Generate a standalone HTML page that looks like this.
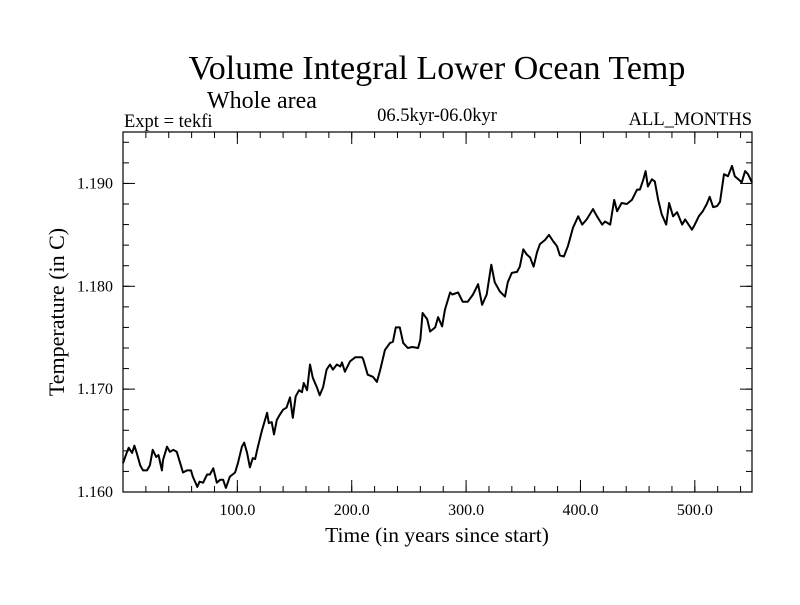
<!DOCTYPE html>
<html><head><meta charset="utf-8"><style>
html,body{margin:0;padding:0;background:#fff}
svg text{font-family:"Liberation Serif",serif;fill:#000}
</style></head><body>
<svg id="chart" width="800" height="600" viewBox="0 0 800 600">
<text x="437" y="79" font-size="34" text-anchor="middle">Volume Integral Lower Ocean Temp</text>
<text x="207" y="108" font-size="24">Whole area</text>
<text x="124" y="127" font-size="18.5">Expt = tekfi</text>
<text x="437" y="121" font-size="18.5" text-anchor="middle">06.5kyr-06.0kyr</text>
<text x="752" y="125" font-size="18.5" text-anchor="end">ALL_MONTHS</text>
<text x="437" y="542" font-size="21.5" text-anchor="middle">Time (in years since start)</text>
<text transform="translate(64,312) rotate(-90)" font-size="22" text-anchor="middle">Temperature (in C)</text>
<g id="axes"></g>
<path id="series" fill="none" stroke="#000" stroke-width="2" stroke-linejoin="round"></path>
<rect x="123" y="132" width="629" height="360" fill="none" stroke="#000" stroke-width="1.2"></rect>
</svg>
<script>
const years = [0,3.5,5,8,10,12,15,17.5,21,23.5,26,29,31,34,35,38.5,41,44,47,50,52.5,56,59.5,61,65,67,70,73.5,76,79,82,85,87.5,90,93.5,98,100.5,104,106,108.5,111,113.5,115.5,118,121.5,126,127.5,130,132,134.5,137,140,143,146,148.5,151,154,156.5,158,161,163.5,166,169.5,172,175,178,181,183.5,187,190,
191.5,194,198.5,203,209,210,214,218.5,222,225,229,233.5,236,238.5,242,245,249,253,258,260,262,266,268.5,273,275.5,279,281.5,286,288,293,297,301.5,306,310.5,314,318,322,325,329.5,334,336.5,340,344.5,347,350,353,356,359,362,364.5,369,372.5,
376,379.5,382,385.5,389,393.5,398,401.5,405.5,411,414.5,419,421.5,426,429.5,432,436,440.5,445,449.5,452,455,457,459,462.5,465,468,471,475,477.5,481,484.5,489,491.5,497.5,500,503.5,507,510.5,513,516,519.5,522,525.5,529,532.5,535,538,541,544,546.5,550];
const temps = [1.1628,1.1639,1.1643,1.1638,1.1645,1.1638,1.1626,1.1621,1.1621,1.1626,1.1641,1.1634,1.1636,1.1621,1.1631,1.1644,1.1639,1.1641,1.1639,1.1628,1.1619,1.1621,1.1621,1.1615,1.1605,1.1610,1.1609,1.1617,1.1617,1.1623,1.1609,1.1612,1.1612,1.1604,1.1615,1.1619,1.1628,1.1644,1.1648,1.1638,1.1624,1.1633,1.1632,1.1644,1.1660,1.1677,1.1667,1.1668,1.1656,1.1670,1.1675,1.1680,1.1682,1.1692,1.1672,1.1693,1.1699,1.1697,1.1706,1.1699,1.1724,1.1711,1.1702,1.1694,1.1702,1.1719,1.1724,1.1719,1.1724,1.1722,
1.1726,1.1717,1.1727,1.1731,1.1731,1.1729,1.1714,1.1712,1.1707,1.1719,1.1738,1.1745,1.1746,1.1760,1.1760,1.1745,1.1740,1.1741,1.1740,1.1748,1.1774,1.1768,1.1756,1.1760,1.1770,1.1761,1.1777,1.1794,1.1792,1.1794,1.1785,1.1785,1.1792,1.1802,1.1782,1.1792,1.1821,1.1804,1.1795,1.1790,1.1804,1.1813,1.1814,1.1819,1.1836,1.1831,1.1828,1.1819,1.1833,1.1841,1.1845,1.1850,
1.1844,1.1839,1.1830,1.1829,1.1839,1.1857,1.1868,1.1860,1.1865,1.1875,1.1868,1.1860,1.1863,1.1860,1.1884,1.1873,1.1881,1.1880,1.1884,1.1894,1.1894,1.1904,1.1912,1.1897,1.1904,1.1902,1.1884,1.1870,1.1860,1.1881,1.1868,1.1872,1.1860,1.1865,1.1855,1.1860,1.1868,1.1873,1.1880,1.1887,1.1877,1.1878,1.1882,1.1909,1.1907,1.1917,1.1907,1.1904,1.1901,1.1912,1.1909,1.1901];
const xTickValues = [100,200,300,400,500];
const xTickLabels = ["100.0","200.0","300.0","400.0","500.0"];
const yTickValues = [1.16,1.17,1.18,1.19];
const yTickLabels = ["1.160","1.170","1.180","1.190"];

const X0=123,X1=752,Y0=492,Y1=132,XMIN=0,XMAX=550,YMIN=1.16,YMAX=1.195;
function xs(v){return X0+(v-XMIN)/(XMAX-XMIN)*(X1-X0);}
function ys(v){return Y0-(v-YMIN)/(YMAX-YMIN)*(Y0-Y1);}
const NS="http://www.w3.org/2000/svg";
const axes=document.getElementById('axes');
function line(x1,y1,x2,y2,name){
  const l=document.createElementNS(NS,'line');
  l.setAttribute('x1',x1);l.setAttribute('y1',y1);l.setAttribute('x2',x2);l.setAttribute('y2',y2);
  l.setAttribute('stroke','#000');l.setAttribute('stroke-width','1');
  
  
  axes.appendChild(l);
}
function text(x,y,s,anchor,name){
  const t=document.createElementNS(NS,'text');
  t.setAttribute('x',x);t.setAttribute('y',y);t.setAttribute('font-size','16');t.setAttribute('text-anchor',anchor);
  t.textContent=s;
  
  
  axes.appendChild(t);
}
for(let v=20;v<XMAX;v+=20){const x=xs(v);line(x,Y0,x,Y0-6,'x-minor-tick');line(x,Y1,x,Y1+6,'x-minor-tick');}
xTickValues.forEach((v,i)=>{const x=xs(v);line(x,Y0,x,Y0-12,'x-major-tick');line(x,Y1,x,Y1+12,'x-major-tick');text(x,515,xTickLabels[i],'middle','x-tick-label');});
for(let v=YMIN+0.002;v<YMAX-1e-9;v+=0.002){const y=ys(v);line(X0,y,X0+6,y,'y-minor-tick');line(X1,y,X1-6,y,'y-minor-tick');}
yTickValues.forEach((v,i)=>{const y=ys(v);line(X0,y,X0+12,y,'y-major-tick');line(X1,y,X1-12,y,'y-major-tick');text(113,y+5,yTickLabels[i],'end','y-tick-label');});
let d='';
years.forEach((v,i)=>{d+=(i?'L':'M')+xs(v).toFixed(1)+','+ys(temps[i]).toFixed(1);});
document.getElementById('series').setAttribute('d',d);
</script>
</body></html>
